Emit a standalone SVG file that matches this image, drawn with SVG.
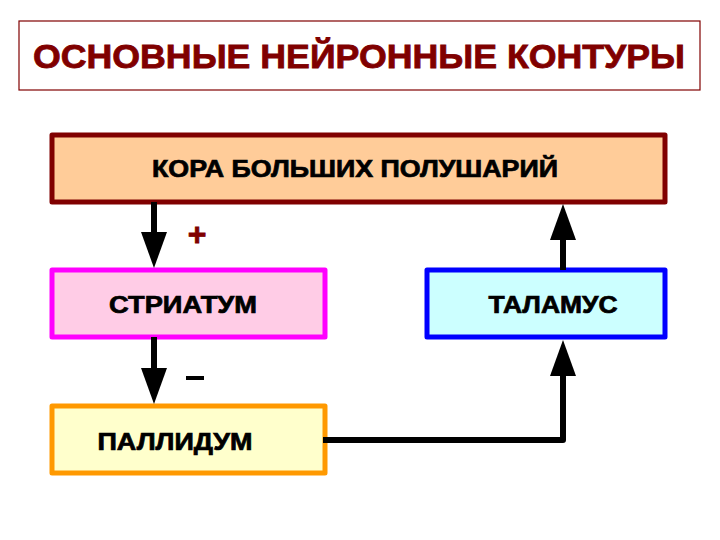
<svg xmlns="http://www.w3.org/2000/svg" width="720" height="540" viewBox="0 0 720 540">
<style>
.lbl{font-family:"Liberation Sans",Arial,sans-serif;font-weight:bold;fill:#000;stroke:#000;stroke-width:0.7;font-size:23px}
.box{stroke-width:5;stroke-linejoin:round}
.con{fill:none;stroke:#000;stroke-width:6;stroke-linejoin:round}
</style>
<defs>
<marker id="ah" markerUnits="userSpaceOnUse" markerWidth="36" markerHeight="26" viewBox="0 0 36 26" refX="0" refY="13" orient="auto" overflow="visible">
<path d="M0,0 L36,13 L0,26 Z" fill="#000"/>
</marker>
</defs>
<rect width="720" height="540" fill="#fff"/>
<g id="title">
<rect x="19" y="21" width="681" height="69" fill="#fff" stroke="#800000" stroke-width="1.2"/>
<text x="359" y="68" text-anchor="middle" font-family="Liberation Sans,Arial,sans-serif" font-weight="bold" font-size="34" fill="#800000" stroke="#800000" stroke-width="0.8" textLength="652" lengthAdjust="spacingAndGlyphs">ОСНОВНЫЕ НЕЙРОННЫЕ КОНТУРЫ</text>
</g>
<g id="cortex">
<rect class="box" x="52" y="135" width="613" height="67" fill="#FFCC99" stroke="#800000"/>
<text class="lbl" x="355" y="177" text-anchor="middle" textLength="406" lengthAdjust="spacingAndGlyphs">КОРА БОЛЬШИХ ПОЛУШАРИЙ</text>
</g>
<g id="striatum">
<rect class="box" x="52" y="270" width="273" height="67" fill="#FFCCE6" stroke="#FF00FF"/>
<text class="lbl" x="183" y="313" text-anchor="middle" textLength="148" lengthAdjust="spacingAndGlyphs">СТРИАТУМ</text>
</g>
<g id="thalamus">
<rect class="box" x="427" y="270" width="238" height="67" fill="#CCFFFF" stroke="#0000FF"/>
<text class="lbl" x="553" y="313" text-anchor="middle" textLength="129" lengthAdjust="spacingAndGlyphs">ТАЛАМУС</text>
</g>
<g id="pallidum">
<rect class="box" x="52" y="406" width="273" height="67" fill="#FFFFCC" stroke="#FF9900"/>
<text class="lbl" x="175" y="450" text-anchor="middle" textLength="155" lengthAdjust="spacingAndGlyphs">ПАЛЛИДУМ</text>
</g>
<g id="connectors">
<path class="con" d="M154,202 V232" marker-end="url(#ah)"/>
<path class="con" d="M154,337 V368" marker-end="url(#ah)"/>
<path class="con" d="M323,440 H563 V376" marker-end="url(#ah)"/>
<path class="con" d="M563,270 V240" marker-end="url(#ah)"/>
<text x="197" y="245" text-anchor="middle" font-family="Liberation Sans,Arial,sans-serif" font-weight="bold" font-size="32" fill="#800000" stroke="#800000" stroke-width="0.8">+</text>
<rect x="186" y="376" width="18" height="4" fill="#000"/>
</g>
</svg>
